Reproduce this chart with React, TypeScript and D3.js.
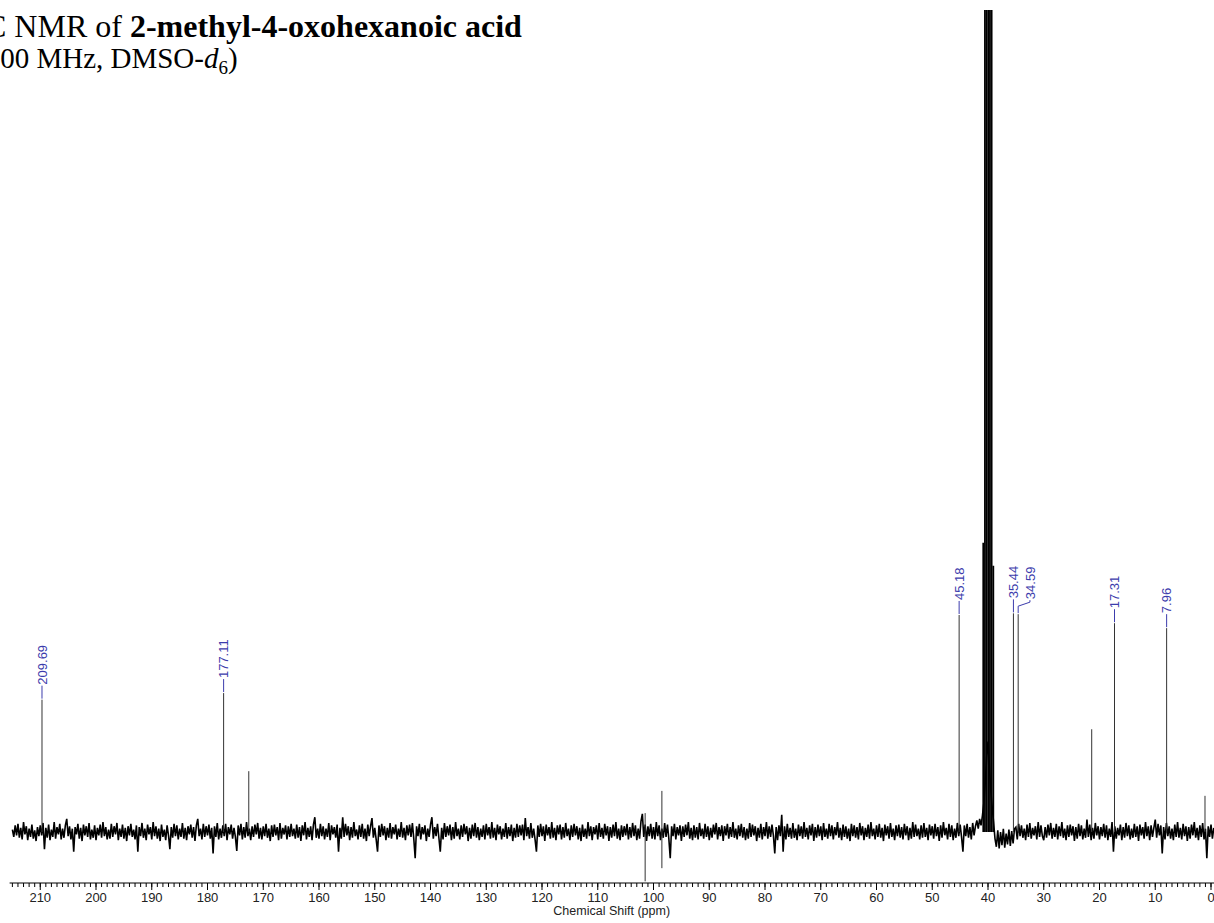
import React from 'react';
import * as d3 from 'd3';

const W = 1214;
const H = 923;

// Spectrum trace (noise floor), sampled every 0.25 ppm starting at 215 ppm, arbitrary intensity units
const noiseStartPpm = 215;
const noiseStepPpm = 0.25;
const noise = [
  3,-6,8,-4,10,-7,5,-9,12,-3,7,-10,4,-6,9,-8,2,-11,6,-5,
  8,-4,11,-21,5,-7,9,-10,3,-6,12,-8,6,-3,10,-9,4,-7,8,16,
  -5,7,-9,4,-24,6,-3,10,-8,5,-11,9,-4,7,-6,11,-9,3,-7,8,
  -10,5,-4,9,-7,12,-5,6,-9,3,-8,10,-6,7,-3,11,-10,4,-6,9,
  -8,5,-11,7,-4,10,-6,3,-9,8,-24,6,-5,11,-7,4,-10,9,-3,6,
  -9,12,-5,7,-8,4,-11,9,-6,3,-10,8,-4,-21,6,-7,10,-5,8,-9,
  4,-6,11,-8,5,-10,7,-3,9,-7,6,-11,8,16,-5,4,-9,10,-6,7,
  -4,9,-8,5,-26,7,-6,11,-9,4,-7,8,-5,10,-10,6,-3,9,-8,5,
  -6,-23,8,-4,10,-9,6,-7,12,-5,4,-10,7,-6,9,-3,11,-8,5,-9,
  7,-5,10,-7,4,-11,8,-6,9,-4,6,-10,11,-8,5,-3,8,-9,7,-6,
  10,-5,4,-8,9,-7,6,-11,8,-4,12,-9,5,-6,7,-10,9,18,-7,4,
  -8,10,-5,7,-9,4,-6,11,-10,8,-3,6,-7,9,-24,5,-8,18,-6,10,
  -4,7,-10,6,-7,12,-5,3,-9,8,-6,10,-8,4,-11,9,-5,7,17,-7,
  5,-9,-24,8,-6,10,-4,7,-10,5,-7,11,-8,6,-3,9,-9,4,-6,12,
  -7,5,-10,8,-4,9,-6,11,-8,-32,7,-5,10,-9,6,-3,8,-11,4,-6,
  9,18,-8,6,-5,10,-7,-24,5,-9,11,-6,7,-4,9,-10,6,-8,12,-5,
  4,-9,8,-6,10,-3,7,-11,5,-8,9,-5,11,-7,6,-10,4,-6,8,-9,
  10,-4,6,-8,12,-7,5,-10,9,-3,7,-9,4,-6,11,-8,6,-5,9,-11,
  5,-7,10,-6,8,-4,9,-10,17,-5,6,-8,11,-7,4,-9,-24,8,-6,10,
  -5,7,-11,9,-4,6,-8,12,-7,5,-10,8,-3,9,-9,6,-7,11,-5,4,
  -10,8,-6,10,-4,7,-9,5,-11,9,-6,4,-8,12,-5,7,-10,6,-3,8,
  -9,11,-6,5,-8,10,-4,7,-11,6,-7,9,-5,12,-8,4,-10,8,-6,7,
  -4,10,-9,6,-7,11,-5,8,-10,4,-8,13,22,-6,9,-11,7,-5,10,-8,
  6,-9,12,-5,8,-10,4,-7,11,-6,9,-8,-32,7,-5,10,-9,6,-4,8,
  -11,7,-6,9,-4,12,-8,5,-10,8,-7,6,-9,11,-5,4,-8,10,-6,7,
  -10,5,-7,9,-3,11,-9,6,-5,8,-11,7,-4,10,-8,6,-6,12,-7,4,
  -9,8,-5,10,-7,6,-10,4,-8,11,-6,9,-4,7,-11,5,-7,10,-9,6,
  -5,12,-8,7,-6,9,-4,-26,6,-10,8,-5,21,-24,7,-9,10,-6,5,-8,
  11,-7,4,-10,9,-5,7,-8,12,-6,5,-9,8,-4,10,-11,6,-7,9,-5,
  7,-10,11,-6,4,-8,10,-5,8,-9,6,-4,12,-7,5,-10,9,-6,7,-8,
  4,-11,10,-5,8,-7,6,-9,11,-4,7,-10,5,-6,9,-8,12,-5,4,-9,
  8,-6,10,-7,5,-11,9,-4,7,-8,11,-6,4,-10,8,-5,9,-7,6,-9,
  10,-4,7,-10,5,-8,12,-6,9,-5,4,-9,8,-7,11,-6,5,-10,9,-4,
  7,-8,10,-5,6,-11,8,-7,12,-4,5,-9,10,-6,8,-10,4,-7,11,-5,
  9,-6,-24,8,-5,10,-7,6,-9,11,-4,7,14,4,16,8,20,35,60,90,
  110,80,50,30,12,-8,-18,2,-20,0,-16,4,-19,-2,-15,3,-17,1,-14,4,
  6,-9,10,-5,8,-7,4,-10,9,-6,11,-8,5,-4,7,-9,12,-6,8,-5,
  -10,6,-7,9,-4,11,-8,5,-6,10,-9,7,-5,12,-7,4,-10,8,-6,9,
  -4,7,-11,6,-8,10,-5,8,-9,4,-7,15,-6,9,-10,5,-8,11,-4,7,
  -9,6,-5,10,-7,8,-10,4,-6,12,-24,7,-8,5,-4,9,-10,6,-7,11,
  -5,8,-9,4,-7,10,-6,7,-11,9,-4,6,-8,12,-5,7,-10,8,-6,5,
  15,-7,10,-4,8,-26,6,-9,11,-5,7,-8,4,-10,9,-6,12,-7,5,-9,
  10,-5,7,-11,6,-8,9,-4,12,-7,5,-10,8,-6,11,-9,4,-32,7,-6,
  9,-8,5,
];

// Sharp resonances (ppm, height)
const peakPpm = [209.69, 177.11, 172.6, 45.18, 35.44, 34.59, 21.4, 17.31, 7.96, 1.08];
const peakHeight = [161, 169, 74, 264, 266, 265, 125, 254, 248, 44];

// DMSO-d6 solvent multiplet (mostly off scale)
const solventPpm = [40.85, 40.55, 40.25, 39.95, 39.65, 39.35, 39.05];
const solventHeight = [352, 3000, 5000, 6000, 5000, 3000, 324];

// Artifact spikes around 100 ppm
const artifactPpm = [101.5, 98.5];
const artifactHigh = [23, 50];
const artifactLow = [-60, -44];

// Annotated peaks
const labelPpm = [209.69, 177.11, 45.18, 35.44, 34.59, 17.31, 7.96];

// Axis ticks
const majorTicks = [210, 200, 190, 180, 170, 160, 150, 140, 130, 120, 110, 100, 90, 80, 70, 60, 50, 40, 30, 20, 10, 0];

const titleMain = 'C NMR of ';
const titleCompound = '2-methyl-4-oxohexanoic acid';
const axisTitle = 'Chemical Shift (ppm)';

export default function App() {
  const x = d3.scaleLinear().domain([215.5, -0.5]).range([9.6, 1213.8]);
  const y = d3.scaleLinear().domain([0, 1000]).range([832, 10]);
  const axisY = 883;

  const line = d3
    .line<number>()
    .x((_, i) => x(noiseStartPpm - i * noiseStepPpm))
    .y((v) => y(v));

  const minorTicks = d3.range(215, -1, -1);

  // label layout: avoid overlaps by pushing to the right
  const labels: { px: number; lx: number; top: number; text: string }[] = [];
  let prev = -Infinity;
  labelPpm.forEach((p) => {
    const px = x(p);
    const idx = peakPpm.indexOf(p);
    const top = y(peakHeight[idx]);
    const lx = Math.max(px, prev + 16.5);
    labels.push({ px, lx, top, text: p.toFixed(2) });
    prev = lx;
  });

  const blue = '#3c3cac';
  const serif = "'Liberation Serif', 'Times New Roman', serif";
  const sans = "'Liberation Sans', Arial, sans-serif";

  return (
    <svg
      width={W}
      height={H}
      style={{ position: 'absolute', left: 0, top: 0, display: 'block', background: '#fff' }}
    >
      <defs>
        <clipPath id="plotClip">
          <rect x={0} y={10} width={W} height={H - 10} />
        </clipPath>
      </defs>

      {/* Title */}
      <text x={-35} y={37} fontFamily={serif} fontSize={32} fill="#000">
        <tspan fontSize={20} dy={-12}>13</tspan>
        <tspan dy={12}>{titleMain}</tspan>
        <tspan fontWeight="bold">{titleCompound}</tspan>
      </text>
      <text x={-24} y={68} fontFamily={serif} fontSize={29} fill="#000">
        (100 MHz, DMSO-<tspan fontStyle="italic">d</tspan>
        <tspan fontSize={19} dy={6}>6</tspan>
        <tspan dy={-6}>)</tspan>
      </text>

      <g clipPath="url(#plotClip)">
        {/* solvent */}
        {solventPpm.map((p, i) => (
          <line key={'s' + i} x1={x(p)} x2={x(p)} y1={y(0)} y2={y(solventHeight[i])} stroke="#000" strokeWidth={1.8} />
        ))}
        {/* noise trace */}
        <path d={line(noise) || ''} fill="none" stroke="#000" strokeWidth={1.6} strokeLinejoin="miter" />
        {/* peaks */}
        {peakPpm.map((p, i) => (
          <line key={'p' + i} x1={x(p)} x2={x(p)} y1={y(0)} y2={y(peakHeight[i])} stroke="#333" strokeWidth={1} />
        ))}
        {artifactPpm.map((p, i) => (
          <line key={'a' + i} x1={x(p)} x2={x(p)} y1={y(artifactLow[i])} y2={y(artifactHigh[i])} stroke="#333" strokeWidth={1} />
        ))}
      </g>

      {/* peak labels */}
      {labels.map((l, i) => (
        <g key={'l' + i}>
          {l.lx === l.px ? (
            <line x1={l.px} x2={l.px} y1={l.top - 1} y2={l.top - 14} stroke={blue} strokeWidth={1} />
          ) : (
            <path
              d={`M${l.px},${l.top - 1}L${l.px},${l.top - 8}L${l.lx},${l.top - 12}L${l.lx},${l.top - 14}`}
              fill="none"
              stroke={blue}
              strokeWidth={1}
            />
          )}
          <text
            transform={`translate(${l.lx},${l.top - 15}) rotate(-90)`}
            dy="0.36em"
            fontFamily={sans}
            fontSize={13}
            fill={blue}
          >
            {l.text}
          </text>
        </g>
      ))}

      {/* x axis */}
      <line x1={x(215.5)} x2={W} y1={axisY} y2={axisY} stroke="#000" strokeWidth={1} />
      {minorTicks.map((t) => (
        <line key={'m' + t} x1={x(t)} x2={x(t)} y1={axisY} y2={axisY + 4} stroke="#000" strokeWidth={1} />
      ))}
      {majorTicks.map((t) => (
        <g key={'M' + t}>
          <line x1={x(t)} x2={x(t)} y1={axisY} y2={axisY + 7} stroke="#000" strokeWidth={1} />
          <text x={x(t)} y={901.5} textAnchor="middle" fontFamily={sans} fontSize={13} fill="#222">
            {t}
          </text>
        </g>
      ))}
      <text x={x(107.5)} y={915} textAnchor="middle" fontFamily={sans} fontSize={12.5} fill="#222">
        {axisTitle}
      </text>
    </svg>
  );
}
